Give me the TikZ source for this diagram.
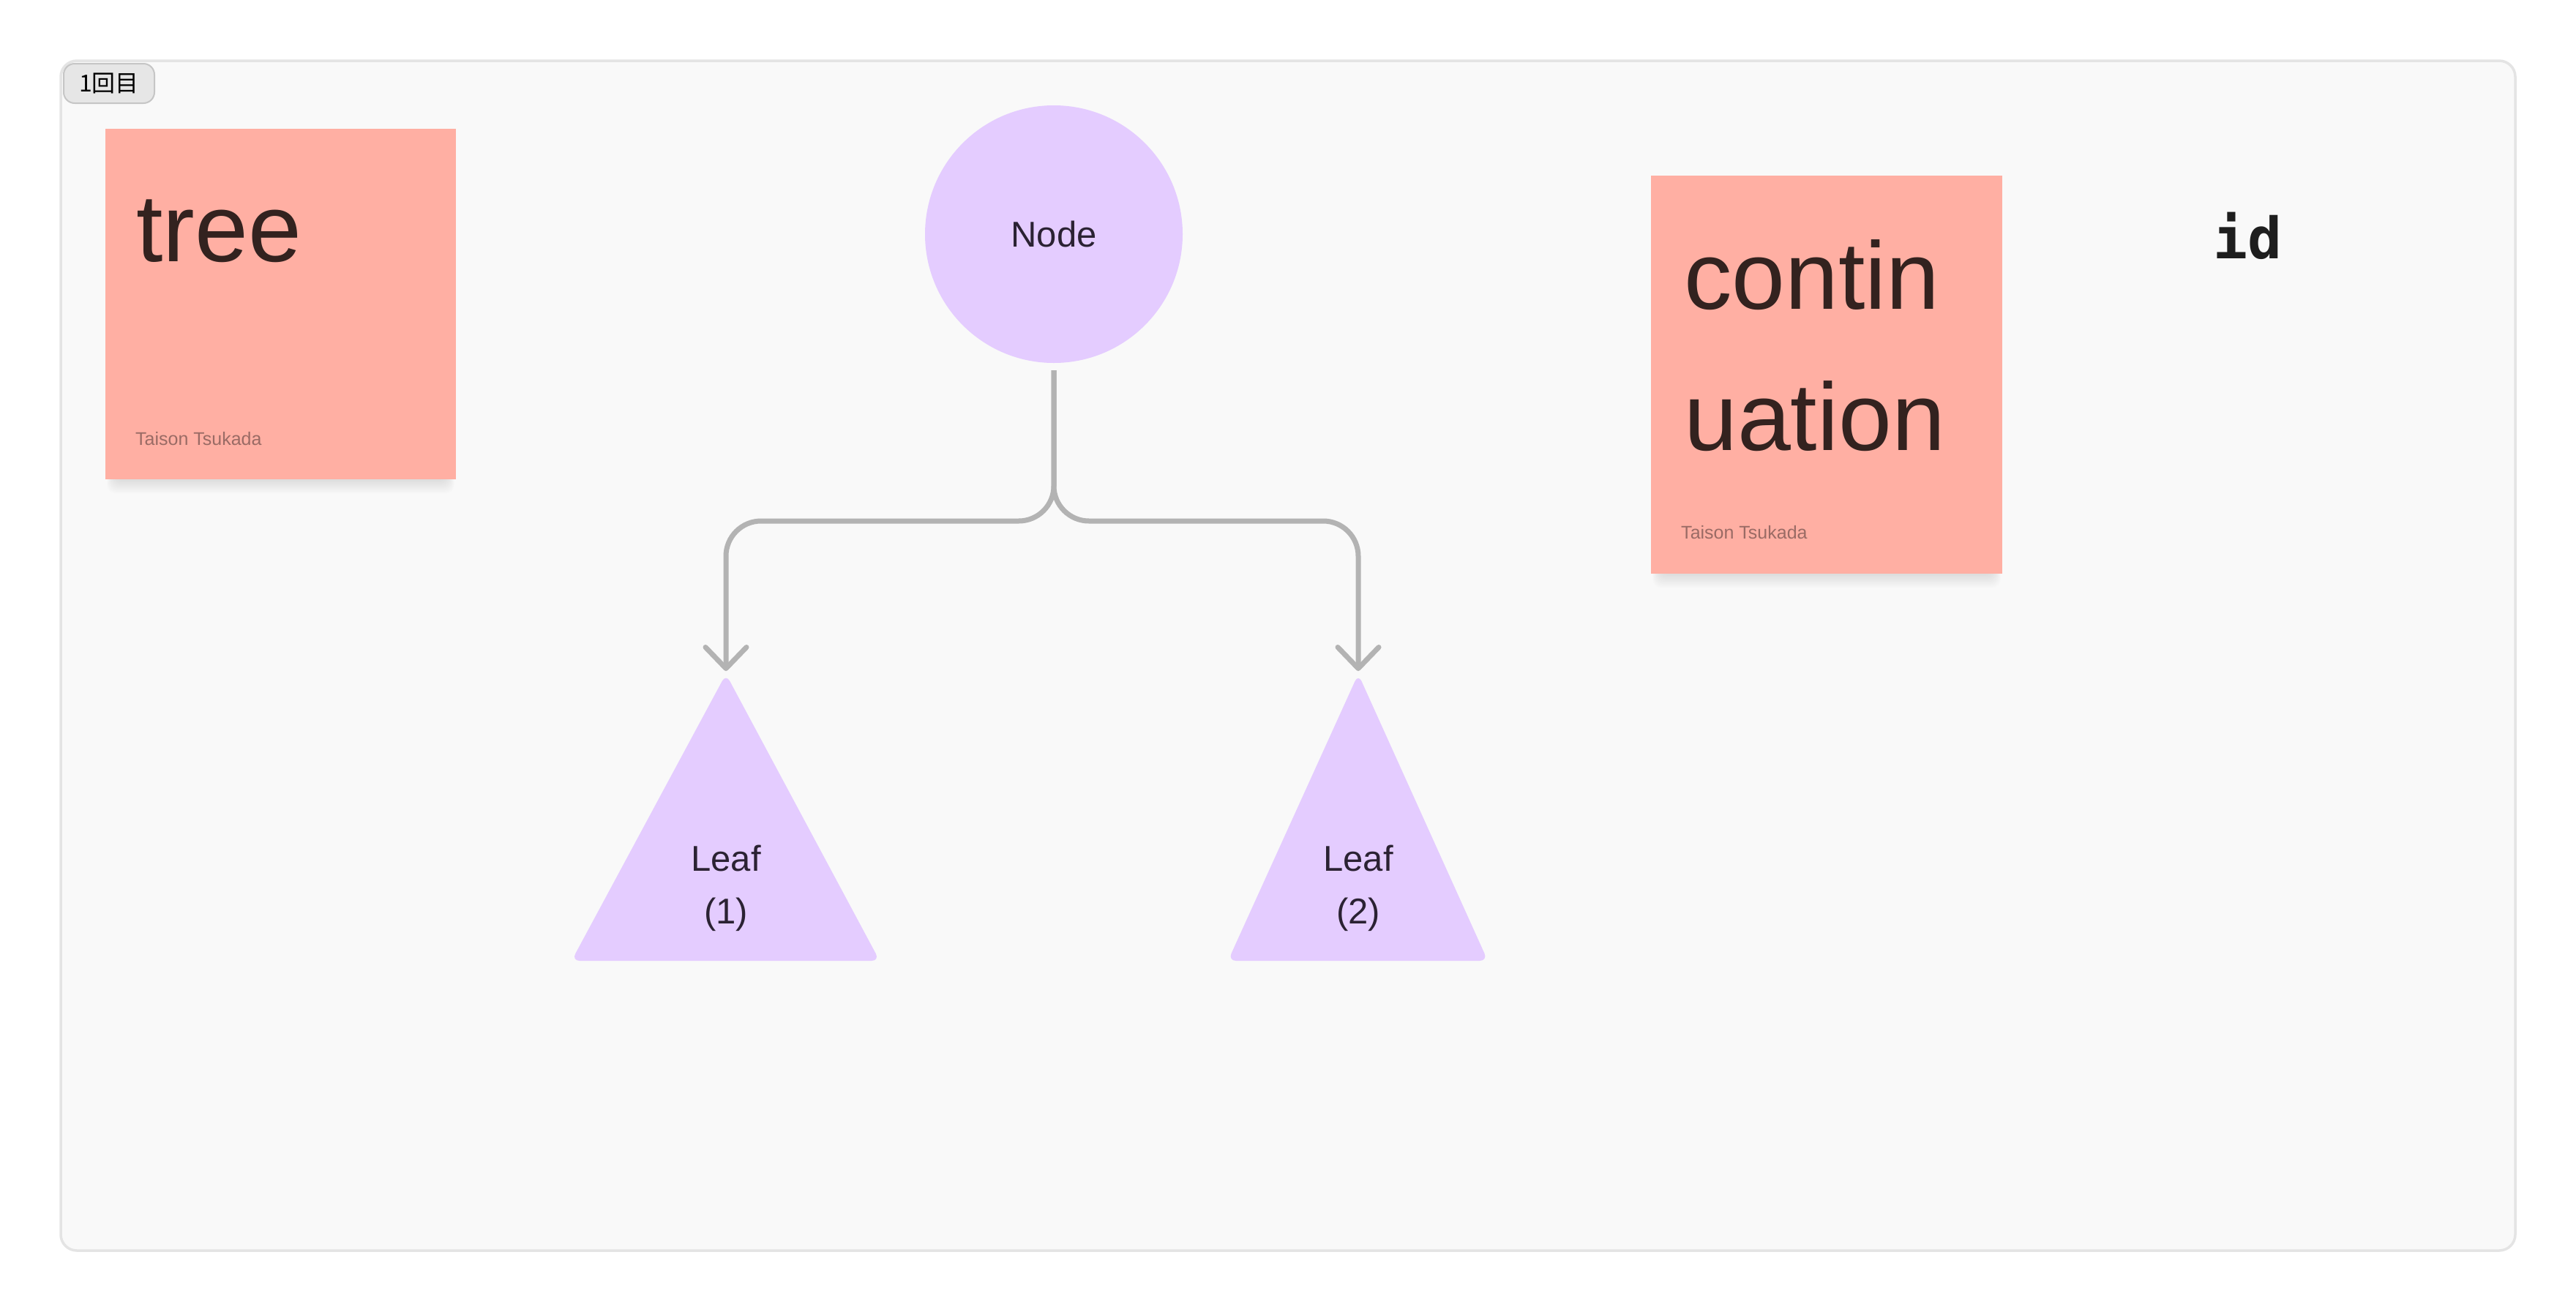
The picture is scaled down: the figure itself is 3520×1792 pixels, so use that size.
\documentclass[tikz,border=0pt]{standalone}
\usepackage{fontspec}
\setmainfont{Liberation Sans}
\newfontfamily\cjkfont{Noto Sans CJK JP}
\newfontfamily\codefont{DejaVu Sans Mono}
\usetikzlibrary{arrows.meta}
\definecolor{framefill}{HTML}{F9F9F9}
\definecolor{frameline}{HTML}{E4E4E4}
\definecolor{tagfill}{HTML}{E6E6E6}
\definecolor{tagline}{HTML}{C6C6C6}
\definecolor{stickyfill}{HTML}{FFAFA3}
\definecolor{stickytext}{HTML}{33221F}
\definecolor{authortext}{HTML}{9A6B65}
\definecolor{lav}{HTML}{E4CCFF}
\definecolor{shapetext}{HTML}{2B2233}
\definecolor{connline}{HTML}{B3B3B3}
\definecolor{codetext}{HTML}{1E1E1E}
\tikzset{
  framebox/.style={draw=frameline, fill=framefill, line width=3.5pt, rounded corners=22pt},
  tagbox/.style={draw=tagline, fill=tagfill, line width=2pt, rounded corners=15pt,
    minimum width=124pt, minimum height=54pt, inner sep=0pt, text=black,
    font=\cjkfont\fontsize{32}{38}\selectfont},
  stickybox/.style={fill=stickyfill, anchor=north west, inner sep=0pt},
  shadowlayer/.style={fill=black, opacity=0.008, rounded corners=12pt},
  bigtxt/.style={anchor=base west, inner sep=0pt, text=stickytext, font=\fontsize{131}{150}\selectfont},
  authortxt/.style={anchor=base west, inner sep=0pt, text=authortext, font=\fontsize{25}{30}\selectfont},
  shapelabel/.style={anchor=base, inner sep=0pt, text=shapetext, font=\fontsize{49}{58}\selectfont},
  leafshape/.style={fill=lav, rounded corners=11pt},
  conn/.style={draw=connline, line width=7pt, rounded corners=48pt,
    -{Straight Barb[length=29pt, width=56pt, round]}},
}
% soft shadow below a sticky note: #1,#2 top-left, #3,#4 bottom-right
\newcommand\stkshadow[4]{%
  \foreach \s in {1,...,14}{%
    \path[shadowlayer] ({#1+12-0.7*\s},{#2+30}) rectangle ({#3-12+0.7*\s},{#4+1.4*\s});
  }%
}
\begin{document}
\begin{tikzpicture}[x=1pt,y=-1pt]
\useasboundingbox[fill=white] (0,0) rectangle (3520,1792);
% frame
\draw[framebox] (83,83) rectangle (3437,1709);
\node[tagbox] (tag) at (149,114) {1回目};
% sticky 1
\stkshadow{144}{176}{623}{655}
\node[stickybox, minimum width=479pt, minimum height=479pt] (stickyA) at (144,176) {};
\node[bigtxt] (treeTxt) at (186,357) {tree};
\node[authortxt] (authorA) at (185,608) {Taison Tsukada};
% sticky 2
\stkshadow{2256}{240}{2736}{784}
\node[stickybox, minimum width=480pt, minimum height=544pt] (stickyB) at (2256,240) {};
\node[bigtxt] (contTxt) at (2301,422) {contin};
\node[bigtxt] (uatTxt) at (2301,615) {uation};
\node[authortxt] (authorB) at (2297,736) {Taison Tsukada};
% id
\node[anchor=base west, inner sep=0pt, text=codetext, font=\codefont\bfseries\fontsize{78}{94}\selectfont] (idTxt) at (3024,353) {id};
% node circle
\node[circle, fill=lav, minimum size=352pt, inner sep=0pt, text=shapetext, font=\fontsize{49}{58}\selectfont] (nodeC) at (1440,320) {Node};
% leaves
\path[leafshape] (992,921) -- (1202,1313) -- (781,1313) -- cycle;
\path[leafshape] (1856,921) -- (2033,1313) -- (1678,1313) -- cycle;
\node[shapelabel] (leafAa) at (992,1190) {Leaf};
\node[shapelabel] (leafAb) at (992,1262) {(1)};
\node[shapelabel] (leafBa) at (1856,1190) {Leaf};
\node[shapelabel] (leafBb) at (1856,1262) {(2)};
% connectors
\coordinate (nodeOut) at (1440,506);
\coordinate (jA) at (992,712);
\coordinate (jB) at (1856,712);
\coordinate (leafAtop) at (992,917);
\coordinate (leafBtop) at (1856,917);
\draw[conn] (nodeOut) |- (jA) -- (leafAtop);
\draw[conn] (nodeOut) |- (jB) -- (leafBtop);
\end{tikzpicture}
\end{document}
